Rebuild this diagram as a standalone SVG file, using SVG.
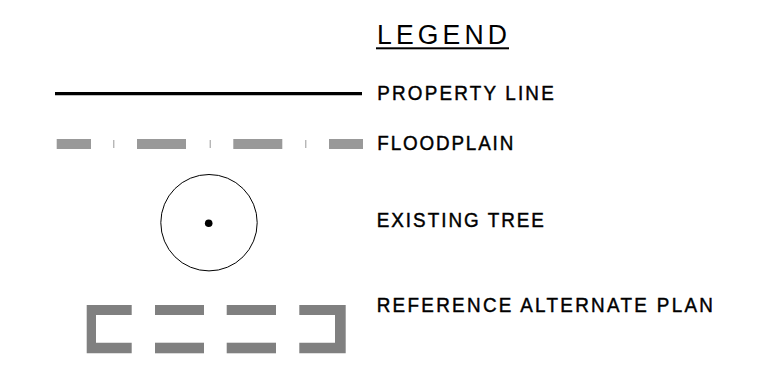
<svg xmlns="http://www.w3.org/2000/svg" width="762" height="370" viewBox="0 0 762 370">
<style>
.lbl{font-family:"Liberation Sans",Arial,sans-serif;font-size:20.5px;fill:#000;stroke:#000;stroke-width:0.45}
.title{font-family:"Liberation Sans",Arial,sans-serif;font-size:28px;fill:#000}
.fp{fill:#999}
.alt{fill:#808080}
</style>
<rect width="762" height="370" fill="#fff"/>
<g id="legend-title">
<text class="title" transform="translate(377,44.3) scale(0.95,1)" textLength="136.8" lengthAdjust="spacing">LEGEND</text>
<rect x="376" y="47.3" width="133" height="2" fill="#000"/>
</g>
<g id="property-line">
<line x1="55" y1="93.7" x2="362" y2="93.7" stroke="#000" stroke-width="3.2"/>
<text class="lbl" transform="translate(377.3,100) scale(0.92,1)" textLength="191.8" lengthAdjust="spacing">PROPERTY LINE</text>
</g>
<g id="floodplain">
<rect class="fp" x="56.7" y="139" width="34.3" height="10"/>
<rect class="fp" x="113.3" y="140" width="1" height="8"/>
<rect class="fp" x="137" y="139" width="49" height="10"/>
<rect class="fp" x="209.7" y="140" width="1" height="8"/>
<rect class="fp" x="233.3" y="139" width="49" height="10"/>
<rect class="fp" x="305.3" y="140" width="1" height="8"/>
<rect class="fp" x="329" y="139" width="34" height="10"/>
<text class="lbl" transform="translate(377.3,150) scale(0.92,1)" textLength="147.8" lengthAdjust="spacing">FLOODPLAIN</text>
</g>
<g id="existing-tree">
<circle cx="209" cy="222.7" r="48.2" fill="none" stroke="#000" stroke-width="1"/>
<circle cx="208.7" cy="223.2" r="3.8" fill="#000"/>
<text class="lbl" transform="translate(376.7,227.3) scale(0.92,1)" textLength="181.8" lengthAdjust="spacing">EXISTING TREE</text>
</g>
<g id="reference-alternate-plan">
<path class="alt" d="M86.7,305 H131.7 V315 H96 V342.7 H131.7 V353.3 H86.7 Z"/>
<rect class="alt" x="155" y="305" width="49" height="10"/>
<rect class="alt" x="155" y="342.7" width="49" height="10.6"/>
<rect class="alt" x="226.7" y="305" width="49.3" height="10"/>
<rect class="alt" x="226.7" y="342.7" width="49.3" height="10.6"/>
<path class="alt" d="M299.3,305 H345.7 V353.3 H299.3 V342.7 H335 V315 H299.3 Z"/>
<text class="lbl" transform="translate(376.7,311.7) scale(0.92,1)" textLength="365.5" lengthAdjust="spacing">REFERENCE ALTERNATE PLAN</text>
</g>
</svg>
